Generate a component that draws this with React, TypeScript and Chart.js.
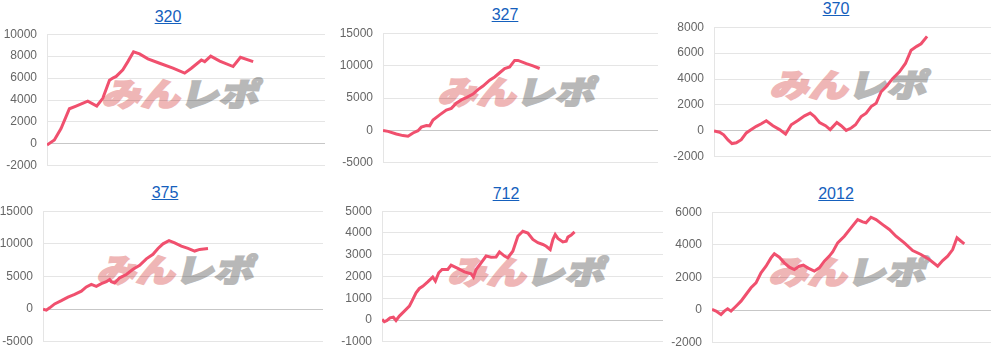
import React, { useEffect, useRef } from "react";
import { Chart, registerables } from "chart.js";

Chart.register(...registerables);

// Titles of the six machines
const titles = ["320", "327", "370", "375", "712", "2012"];

// x = progress (games, arbitrary units), y = difference
const games320 = [0, 22, 42, 67, 87, 122, 149, 167, 187, 197, 207, 227, 242, 259, 277, 302, 337, 377, 412, 432, 462, 472, 490, 517, 557, 579, 617];
const diff320 = [-100, 350, 1400, 3200, 3450, 3900, 3450, 4150, 5800, 6000, 6150, 6750, 7500, 8400, 8200, 7750, 7350, 6900, 6450, 6900, 7650, 7500, 8000, 7550, 7050, 7900, 7500];

const games327 = [0, 15, 40, 60, 75, 90, 105, 115, 130, 140, 150, 170, 190, 205, 220, 235, 250, 270, 285, 300, 320, 335, 350, 365, 380, 395, 405, 430, 450, 470];
const diff327 = [0, -150, -550, -800, -900, -400, -50, 500, 750, 700, 1600, 2400, 3150, 3400, 4200, 4700, 5050, 5600, 6300, 6850, 7750, 8250, 8900, 9550, 9800, 10800, 10800, 10300, 9950, 9550];

const games370 = [0, 17, 29, 42, 54, 67, 82, 97, 112, 127, 142, 157, 177, 197, 215, 232, 252, 272, 289, 302, 317, 335, 349, 369, 382, 397, 412, 425, 442, 457, 472, 487, 502, 517, 537, 557, 575, 592, 609, 622, 640];
const diff370 = [0, -100, -300, -700, -980, -920, -680, -160, 100, 350, 550, 780, 400, 100, -240, 470, 800, 1160, 1370, 1110, 650, 400, 100, 650, 400, 40, 220, 470, 1110, 1370, 1880, 2130, 3020, 3410, 4050, 4560, 5200, 6220, 6520, 6720, 7290];

const games375 = [0, 10, 20, 35, 55, 75, 95, 115, 130, 145, 160, 175, 190, 200, 205, 215, 230, 250, 270, 290, 310, 330, 345, 360, 378, 395, 415, 435, 455, 470, 495];
const diff375 = [0, -150, 200, 800, 1300, 1850, 2250, 2750, 3400, 3800, 3500, 3900, 4200, 4550, 4200, 4000, 4800, 5300, 6100, 6700, 7700, 8400, 9300, 10000, 10500, 10150, 9650, 9300, 8900, 9150, 9300];

const games712 = [0, 7, 15, 24, 34, 42, 52, 67, 82, 92, 102, 112, 122, 137, 152, 160, 170, 180, 197, 207, 227, 247, 267, 274, 282, 297, 312, 327, 342, 352, 367, 377, 392, 407, 422, 437, 452, 467, 482, 492, 504, 512, 519, 527, 542, 552, 557, 567, 577];
const diff712 = [30, -80, -20, 100, 130, -20, 180, 410, 640, 940, 1250, 1450, 1550, 1750, 1970, 1790, 2170, 2320, 2320, 2520, 2370, 2210, 2120, 1970, 2320, 2630, 2940, 2890, 2900, 3130, 2940, 2860, 3160, 3850, 4080, 4000, 3700, 3550, 3470, 3390, 3240, 3700, 3930, 3750, 3590, 3620, 3810, 3900, 4050];

const games2012 = [0, 12, 27, 37, 47, 57, 72, 87, 102, 117, 132, 147, 162, 177, 187, 202, 217, 232, 247, 262, 274, 287, 307, 322, 337, 352, 362, 377, 397, 417, 437, 452, 462, 477, 492, 512, 532, 552, 577, 602, 627, 652, 677, 692, 707, 722, 735, 747, 757];
const diff2012 = [40, -60, -270, -60, 80, -60, 240, 550, 960, 1370, 1670, 2290, 2690, 3200, 3450, 3240, 2900, 2630, 2490, 2690, 2760, 2590, 2390, 2590, 3000, 3310, 3570, 4120, 4530, 5040, 5550, 5410, 5350, 5690, 5550, 5240, 4940, 4530, 4120, 3650, 3410, 3100, 2690, 3040, 3310, 3710, 4430, 4220, 4060];

const gamesList = [games320, games327, games370, games375, games712, games2012];
const diffList = [diff320, diff327, diff370, diff375, diff712, diff2012];

// axis ranges
const xMaxList = [832, 825, 832, 840, 842, 837];
const yMinList = [-2000, -5000, -2000, -5000, -1000, -2000];
const yMaxList = [10000, 15000, 8000, 15000, 5000, 6000];
const yStepList = [2000, 5000, 2000, 5000, 1000, 2000];

type Layout = {
  left: number; top: number; width: number; height: number; axisW: number;
  titleX: number; titleY: number; wmX: number; wmY: number;
};

const layouts: Layout[] = [
  { left: 0, top: 17, width: 325, height: 166, axisW: 47, titleX: 168, titleY: 17, wmX: 105, wmY: 77 },
  { left: 336, top: 16, width: 322, height: 164, axisW: 47, titleX: 505, titleY: 15, wmX: 441, wmY: 75 },
  { left: 670, top: 10, width: 321, height: 164, axisW: 44, titleX: 836, titleY: 9, wmX: 773, wmY: 68 },
  { left: 0, top: 194, width: 323, height: 165, axisW: 43, titleX: 165, titleY: 193, wmX: 100, wmY: 253 },
  { left: 336, top: 194, width: 327, height: 165, axisW: 46, titleX: 506, titleY: 194, wmX: 451, wmY: 255 },
  { left: 670, top: 195, width: 321, height: 165, axisW: 42, titleX: 836, titleY: 194, wmX: 772, wmY: 255 },
];

const FONT = 'Helvetica, Arial, "Liberation Sans", sans-serif';

function Panel({ idx }: { idx: number }) {
  const ref = useRef<HTMLCanvasElement | null>(null);
  const L = layouts[idx];
  useEffect(() => {
    if (!ref.current) return;
    const pts = gamesList[idx].map((g, i) => ({ x: g, y: diffList[idx][i] }));
    const chart = new Chart(ref.current, {
      type: "line",
      data: {
        datasets: [
          {
            data: pts,
            borderColor: "#f0506e",
            backgroundColor: "#f0506e",
            borderWidth: 3,
            pointRadius: 0,
            tension: 0,
            fill: false,
          },
        ],
      },
      options: {
        animation: false,
        responsive: false,
        devicePixelRatio: 1,
        layout: { padding: { top: 3, bottom: 3, left: 0, right: 0 } },
        plugins: { legend: { display: false }, tooltip: { enabled: false }, title: { display: false } },
        scales: {
          x: { type: "linear", min: 0, max: xMaxList[idx], display: false },
          y: {
            min: yMinList[idx],
            max: yMaxList[idx],
            ticks: {
              stepSize: yStepList[idx],
              color: "#666",
              padding: 10,
              font: { family: FONT, size: 12 },
              callback: (v: any) => String(v),
            },
            grid: {
              drawTicks: false,
              color: (c: any) => (c.tick && c.tick.value === 0 ? "rgba(0,0,0,0.22)" : "rgba(0,0,0,0.1)"),
            },
            border: { color: "rgba(0,0,0,0.1)" },
            afterFit: (s: any) => {
              s.width = L.axisW;
            },
          },
        },
      },
    });
    return () => chart.destroy();
  }, [idx]);

  return (
    <>
      <div
        style={{
          position: "absolute",
          left: L.titleX - 60,
          top: L.titleY - 10,
          width: 120,
          height: 20,
          lineHeight: "20px",
          textAlign: "center",
          fontFamily: FONT,
          fontSize: 16,
        }}
      >
        <a href="#" style={{ color: "#1560bd", textDecoration: "underline" }}>
          {titles[idx]}
        </a>
      </div>
      <div
        style={{
          position: "absolute",
          left: L.wmX,
          top: L.wmY,
          height: 30,
          lineHeight: "30px",
          whiteSpace: "nowrap",
          fontFamily: '"Noto Sans CJK JP", sans-serif',
          fontWeight: 900,
          fontSize: 32,
          transform: "skewX(-14deg) scaleX(1.22)",
          transformOrigin: "left center",
        }}
      >
        <span style={{ color: "#efb6b6", WebkitTextStroke: "2px #efb6b6" } as any}>みん</span>
        <span style={{ color: "#b8b8b8", WebkitTextStroke: "2px #b8b8b8" } as any}>レポ</span>
      </div>
      <canvas
        ref={ref}
        width={L.width}
        height={L.height}
        style={{ position: "absolute", left: L.left, top: L.top, width: L.width, height: L.height }}
      />
    </>
  );
}

export default function App() {
  return (
    <div>
      {titles.map((_, i) => (
        <Panel key={i} idx={i} />
      ))}
    </div>
  );
}
